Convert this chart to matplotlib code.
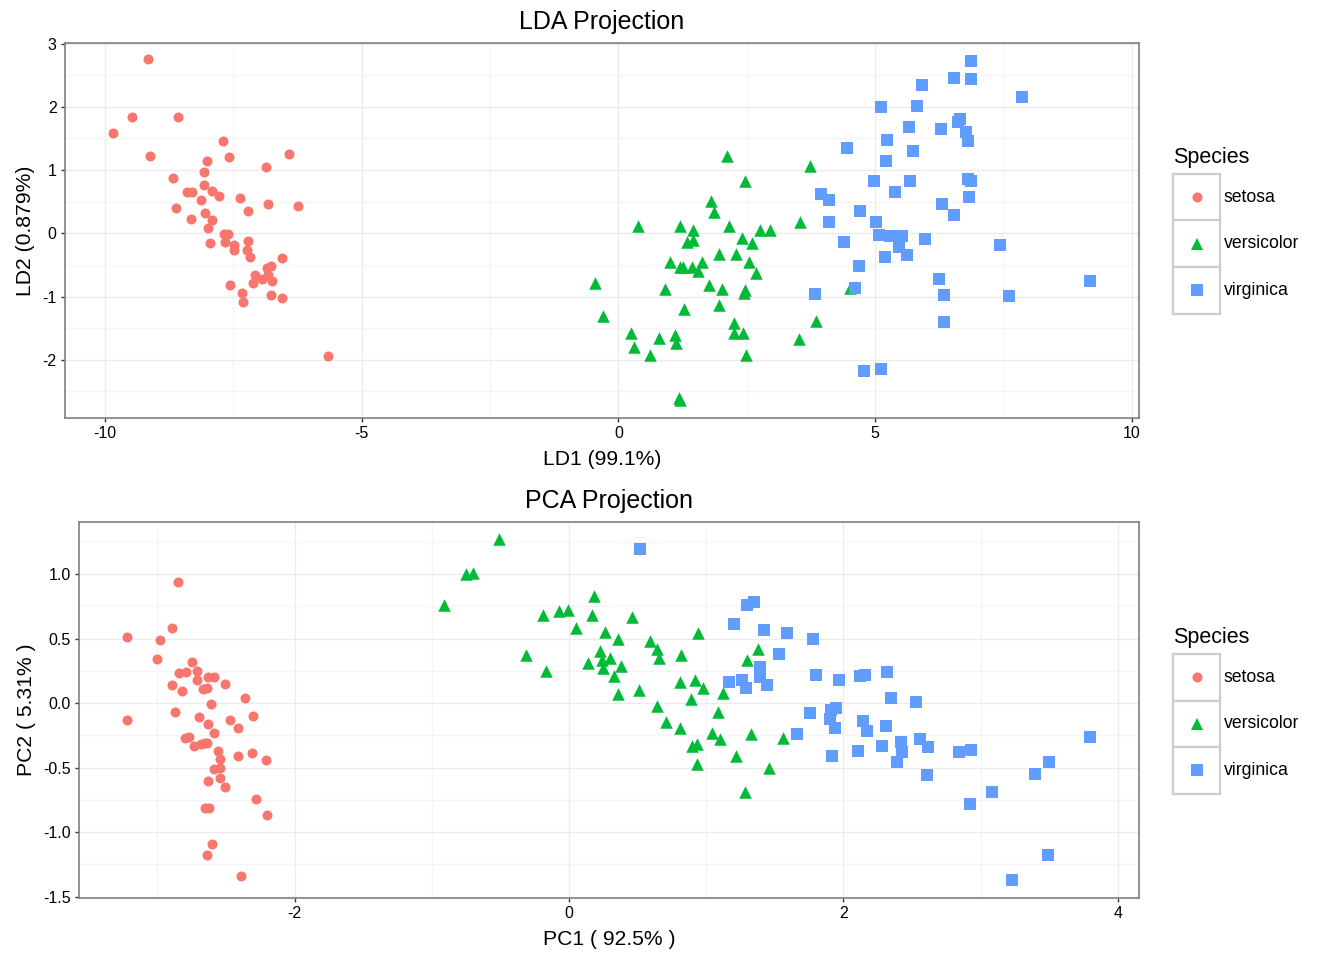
import numpy as np
import matplotlib
matplotlib.use("Agg")
import matplotlib.pyplot as plt
from matplotlib.lines import Line2D
from matplotlib.patches import Rectangle
from matplotlib.ticker import MultipleLocator

plt.rcParams['font.family'] = ['Liberation Sans', 'DejaVu Sans']
plt.rcParams['axes.unicode_minus'] = False

species = ['setosa', 'versicolor', 'virginica']
colors = ['#F8766D', '#00BA38', '#619CFF']
markers = ['o', '^', 's']
sizes = [52, 81, 63]

# LDA scores
lda_setosa_x = [-9.16, -9.47, -8.58, -9.85, -7.71, -9.12, -7.59, -8.01, -6.41, -6.87,
                -8.08, -8.68, -8.08, -8.41, -8.31, -7.92, -7.78, -8.14, -7.38, -6.83,
                -6.25, -8.62, -7.22, -8.06, -8.33, -7.92, -7.99, -7.68, -7.60, -7.66,
                -7.96, -7.49, -7.48, -7.22, -7.24, -7.18, -6.56, -6.77, -6.84, -7.07,
                -6.82, -6.94, -6.75, -7.12, -7.57, -7.34, -7.32, -6.77, -6.56, -5.66]
lda_setosa_y = [2.75, 1.84, 1.84, 1.59, 1.46, 1.23, 1.21, 1.14, 1.25, 1.05,
                0.97, 0.88, 0.76, 0.65, 0.65, 0.67, 0.59, 0.52, 0.56, 0.47,
                0.44, 0.40, 0.36, 0.32, 0.23, 0.21, 0.09, -0.01, -0.01, -0.13,
                -0.16, -0.18, -0.26, -0.12, -0.27, -0.37, -0.39, -0.51, -0.55, -0.66,
                -0.66, -0.72, -0.76, -0.79, -0.81, -0.95, -1.08, -0.98, -1.02, -1.94]
lda_versicolor_x = [2.12, 3.73, 2.46, 1.81, 1.87, 0.39, 1.20, 2.15, 3.53, 2.76,
                    2.95, 1.46, 1.34, 1.46, 2.41, 2.60, 1.96, 2.29, 1.00, 1.20,
                    1.26, 1.43, 1.63, 1.55, 2.55, 2.67, -0.46, 0.91, 1.76, 2.02,
                    2.46, 2.44, -0.30, 1.28, 1.96, 3.85, 2.26, 2.25, 2.43, 0.24,
                    0.79, 1.11, 1.12, 0.31, 0.62, 2.49, 3.52, 1.18, 1.20, 4.51]
lda_versicolor_y = [1.22, 1.07, 0.82, 0.51, 0.34, 0.12, 0.11, 0.12, 0.18, 0.05,
                    0.05, 0.05, -0.14, -0.11, -0.08, -0.16, -0.33, -0.32, -0.46, -0.53,
                    -0.53, -0.53, -0.45, -0.60, -0.45, -0.63, -0.78, -0.88, -0.81, -0.88,
                    -0.90, -0.95, -1.31, -1.20, -1.13, -1.39, -1.42, -1.57, -1.57, -1.57,
                    -1.65, -1.61, -1.74, -1.79, -1.93, -1.92, -1.67, -2.60, -2.64, -0.86]
lda_virginica_x = [6.87, 6.54, 6.86, 5.91, 7.86, 5.12, 5.82, 6.66, 6.62, 5.66,
                   6.29, 6.77, 6.81, 5.23, 4.46, 5.74, 5.22, 4.98, 5.68, 6.81,
                   6.87, 5.38, 3.95, 4.10, 6.83, 6.31, 4.70, 6.53, 4.10, 5.01,
                   5.08, 5.29, 5.52, 5.97, 4.39, 5.47, 7.44, 5.20, 5.62, 4.69,
                   6.25, 9.19, 3.83, 4.61, 6.34, 7.60, 6.35, 4.78, 5.12]
lda_virginica_y = [2.73, 2.46, 2.44, 2.35, 2.15, 2.00, 2.01, 1.81, 1.76, 1.68,
                   1.65, 1.61, 1.46, 1.47, 1.35, 1.30, 1.14, 0.82, 0.83, 0.86,
                   0.83, 0.65, 0.62, 0.52, 0.57, 0.46, 0.35, 0.29, 0.18, 0.18,
                   -0.03, -0.04, -0.04, -0.09, -0.13, -0.21, -0.18, -0.37, -0.35, -0.51,
                   -0.72, -0.76, -0.96, -0.86, -0.98, -0.99, -1.40, -2.17, -2.15]

# PCA scores for the bottom panel
pca_setosa_x = [-2.68, -2.71, -2.89, -2.75, -2.73, -2.28, -2.82, -2.63, -2.89, -2.67,
                -2.51, -2.61, -2.79, -3.22, -2.64, -2.39, -2.62, -2.65, -2.20, -2.59,
                -2.31, -2.54, -3.22, -2.30, -2.36, -2.51, -2.47, -2.56, -2.64, -2.63,
                -2.59, -2.41, -2.65, -2.60, -2.64, -2.87, -2.63, -2.80, -2.98, -2.59,
                -2.77, -2.85, -3.00, -2.41, -2.21, -2.71, -2.54, -2.84, -2.54, -2.70]
pca_setosa_y = [-0.32, 0.18, 0.14, 0.32, -0.33, -0.74, 0.09, -0.16, 0.58, 0.11,
                -0.65, -0.01, 0.24, 0.51, -1.18, -1.34, -0.81, -0.31, -0.87, -0.51,
                -0.39, -0.43, -0.13, -0.10, 0.04, 0.15, -0.13, -0.37, -0.31, 0.20,
                0.20, -0.41, -0.81, -1.09, 0.12, -0.07, -0.60, -0.27, 0.49, -0.23,
                -0.26, 0.94, 0.34, -0.19, -0.44, 0.25, -0.50, 0.23, -0.58, -0.11]
pca_versicolor_x = [1.28, 0.93, 1.46, 0.18, 1.09, 0.64, 1.10, -0.75, 1.04, -0.01,
                    -0.51, 0.51, 0.26, 0.98, -0.17, 0.93, 0.66, 0.24, 0.94, 0.05,
                    1.12, 0.36, 1.30, 0.92, 0.71, 0.90, 1.33, 1.56, 0.81, -0.31,
                    -0.07, -0.19, 0.14, 1.38, 0.59, 0.81, 1.22, 0.82, 0.25, 0.17,
                    0.46, 0.89, 0.23, -0.70, 0.36, 0.33, 0.38, 0.64, -0.91, 0.30]
pca_versicolor_y = [-0.69, -0.32, -0.50, 0.83, -0.07, 0.42, -0.28, 1.00, -0.23, 0.72,
                    1.27, 0.10, 0.55, 0.12, 0.25, -0.47, 0.35, 0.33, 0.54, 0.58,
                    0.08, 0.07, 0.33, 0.18, -0.15, -0.33, -0.24, -0.27, 0.16, 0.37,
                    0.71, 0.68, 0.31, 0.42, 0.48, -0.19, -0.41, 0.37, 0.27, 0.68,
                    0.67, 0.03, 0.40, 1.01, 0.50, 0.21, 0.29, -0.02, 0.76, 0.35]
pca_virginica_x = [2.53, 1.42, 2.62, 1.97, 2.35, 3.40, 0.52, 2.93, 2.32, 2.92,
                   1.66, 1.80, 2.17, 1.35, 1.59, 1.90, 1.95, 3.49, 3.80, 1.30,
                   2.43, 1.20, 3.50, 1.39, 2.28, 2.61, 1.26, 1.29, 2.12, 2.39,
                   2.84, 3.23, 2.16, 1.44, 1.78, 3.08, 2.14, 1.91, 1.17, 2.11,
                   2.31, 1.92, 1.42, 2.56, 2.42, 1.94, 1.53, 1.76, 1.90, 1.39]
pca_virginica_y = [0.01, 0.57, -0.34, 0.18, 0.04, -0.55, 1.19, -0.36, 0.24, -0.78,
                   -0.24, 0.22, -0.22, 0.78, 0.54, -0.12, -0.04, -1.18, -0.26, 0.76,
                   -0.38, 0.61, -0.46, 0.20, -0.33, -0.56, 0.18, 0.12, 0.21, -0.46,
                   -0.38, -1.37, 0.22, 0.14, 0.50, -0.69, -0.14, -0.05, 0.16, -0.37,
                   -0.18, -0.41, 0.57, -0.28, -0.30, -0.19, 0.38, -0.08, -0.12, 0.28]

lda_xy = [(lda_setosa_x, lda_setosa_y), (lda_versicolor_x, lda_versicolor_y),
          (lda_virginica_x, lda_virginica_y)]
pca_xy = [(pca_setosa_x, pca_setosa_y), (pca_versicolor_x, pca_versicolor_y),
          (pca_virginica_x, pca_virginica_y)]

W, H = 1344, 960
fig = plt.figure(figsize=(W / 100, H / 100), dpi=100)


def px_axes(left, top, right, bottom):
    return fig.add_axes([left / W, 1 - bottom / H, (right - left) / W, (bottom - top) / H])


def style(ax, title, xlabel, ylabel, xmaj, xmin, ymaj, ymin):
    ax.set_facecolor('white')
    ax.xaxis.set_major_locator(MultipleLocator(xmaj))
    ax.xaxis.set_minor_locator(MultipleLocator(xmin))
    ax.yaxis.set_major_locator(MultipleLocator(ymaj))
    ax.yaxis.set_minor_locator(MultipleLocator(ymin))
    ax.grid(which='major', color='#EBEBEB', lw=1.0, zorder=0)
    ax.grid(which='minor', color='#F5F5F5', lw=1.0, zorder=0)
    ax.set_axisbelow(True)
    ax.tick_params(which='major', length=3, width=1.0, color='#333333',
                   labelsize=11.5, labelcolor='black', pad=3)
    ax.tick_params(which='minor', length=0)
    for sp in ax.spines.values():
        sp.set_color('#7F7F7F')
        sp.set_linewidth(1.2)
    ax.set_title(title, fontsize=18, pad=10)
    ax.set_xlabel(xlabel, fontsize=15.2, labelpad=6)
    ax.set_ylabel(ylabel, fontsize=15.2, labelpad=5)


def draw_legend(top):
    x0, bw, bh = 1173, 47, 46.5
    fig.text(x0 / W, 1 - (top - 17) / H, 'Species', fontsize=15.5, va='center', ha='left')
    for i, sp in enumerate(species):
        y0 = top + i * bh
        fig.add_artist(Rectangle((x0 / W, 1 - (y0 + bh) / H), bw / W, bh / H,
                                 transform=fig.transFigure, facecolor='white',
                                 edgecolor='#CCCCCC', lw=1.6))
        cy = 1 - (y0 + bh / 2) / H
        fig.add_artist(Line2D([(x0 + bw / 2) / W], [cy], transform=fig.transFigure,
                              marker=markers[i], color=colors[i], ls='none',
                              markersize=np.sqrt(sizes[i]), markeredgewidth=0))
        fig.text((x0 + bw + 4) / W, cy, sp, fontsize=12.7, va='center', ha='left')


ax1 = px_axes(65, 43, 1139, 418)
for i, (xs, ys) in enumerate(lda_xy):
    ax1.scatter(xs, ys, c=colors[i], marker=markers[i], s=sizes[i], linewidths=0, zorder=3)
ax1.set_xlim(-10.78, 10.14)
ax1.set_ylim(-2.92, 3.01)
style(ax1, 'LDA Projection', 'LD1 (99.1%)', 'LD2 (0.879%)', 5, 2.5, 1, 0.5)

ax2 = px_axes(79, 522, 1139, 898)
for i, (xs, ys) in enumerate(pca_xy):
    ax2.scatter(xs, ys, c=colors[i], marker=markers[i], s=sizes[i], linewidths=0, zorder=3)
ax2.set_xlim(-3.571, 4.155)
ax2.set_ylim(-1.51, 1.403)
ax2.yaxis.set_major_formatter(matplotlib.ticker.FormatStrFormatter('%.1f'))
style(ax2, 'PCA Projection', 'PC1 ( 92.5% )', 'PC2 ( 5.31% )', 2, 1, 0.5, 0.25)

draw_legend(174)
draw_legend(654)

fig.savefig('out.png', dpi=100)
